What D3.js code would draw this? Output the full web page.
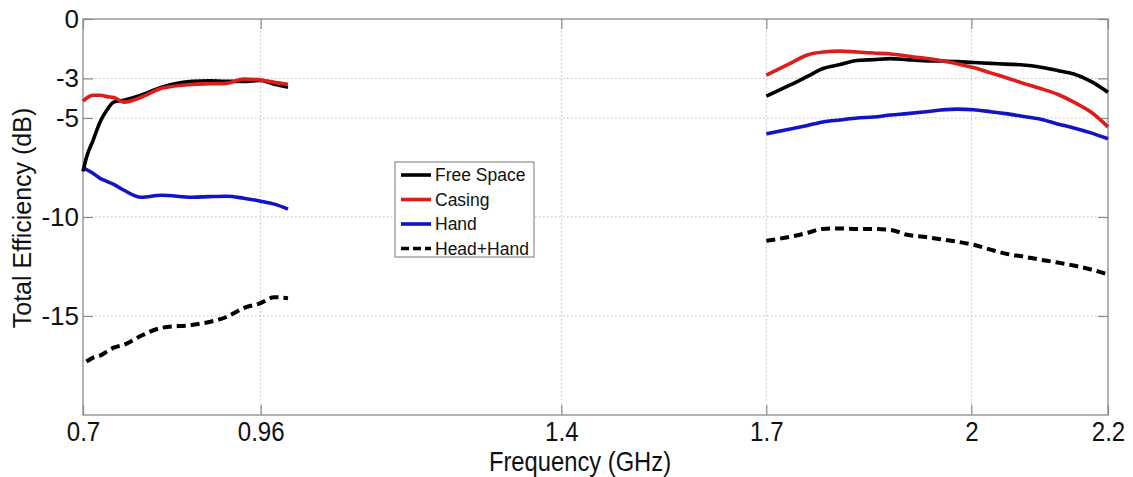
<!DOCTYPE html>
<html><head><meta charset="utf-8">
<script src="https://cdn.jsdelivr.net/npm/d3@7"></script>
<style>
body{margin:0;background:#fff;}
svg{display:block;font-family:"Liberation Sans",Arial,sans-serif;}
</style></head>
<body><svg id="c" width="1133" height="477"></svg>
<script>
// ---- data ----
const xTicks = [0.7, 0.96, 1.4, 1.7, 2, 2.2];
const xTickLabels = ["0.7", "0.96", "1.4", "1.7", "2", "2.2"];
const yTicks = [0, -3, -5, -10, -15];
const yTickLabels = ["0", "-3", "-5", "-10", "-15"];
const seriesNames = ["Free Space", "Casing", "Hand", "Head+Hand"];

const lowFreq = [0.70,0.705,0.715,0.725,0.735,0.745,0.76,0.785,0.815,0.86,0.885,0.91,0.935,0.96,0.98,1.0];
const freeLow  = [-7.7,-7.0,-6.1,-5.2,-4.6,-4.2,-4.1,-3.85,-3.45,-3.15,-3.12,-3.15,-3.15,-3.1,-3.3,-3.45];
const casingLow= [-4.15,-4.0,-3.85,-3.85,-3.92,-3.97,-4.2,-3.95,-3.5,-3.3,-3.27,-3.25,-3.03,-3.08,-3.2,-3.3];
const handLow  = [-7.5,-7.6,-7.8,-8.05,-8.2,-8.35,-8.65,-9.0,-8.9,-9.0,-8.97,-8.95,-9.05,-9.2,-9.35,-9.6];
const headFreqLow = [0.705,0.715,0.725,0.735,0.745,0.76,0.785,0.815,0.86,0.885,0.91,0.935,0.96,0.98,1.0];
const headLow  = [-17.3,-17.1,-17.0,-16.8,-16.6,-16.45,-16.0,-15.6,-15.45,-15.3,-15.05,-14.6,-14.35,-14.05,-14.1];

const highFreq = [1.70,1.735,1.76,1.783,1.808,1.833,1.857,1.882,1.906,1.93,1.955,1.98,2.003,2.028,2.05,2.076,2.10,2.126,2.15,2.175,2.2];
const freeHigh  = [-3.9,-3.33,-2.9,-2.5,-2.3,-2.1,-2.05,-2.0,-2.05,-2.1,-2.12,-2.15,-2.2,-2.24,-2.28,-2.32,-2.42,-2.6,-2.78,-3.15,-3.7];
const casingHigh= [-2.83,-2.24,-1.82,-1.67,-1.62,-1.67,-1.72,-1.77,-1.87,-1.97,-2.1,-2.27,-2.45,-2.72,-2.95,-3.25,-3.5,-3.8,-4.2,-4.7,-5.45];
const handHigh  = [-5.8,-5.56,-5.38,-5.2,-5.1,-5.0,-4.95,-4.85,-4.78,-4.7,-4.6,-4.55,-4.58,-4.68,-4.78,-4.92,-5.05,-5.3,-5.5,-5.75,-6.05];
const headHigh  = [-11.2,-11.0,-10.8,-10.6,-10.58,-10.6,-10.6,-10.65,-10.9,-11.0,-11.12,-11.25,-11.4,-11.65,-11.85,-12.0,-12.15,-12.3,-12.45,-12.65,-12.9];

// ---- layout ----
const L = 83, T = 19, R = 1108, B = 415;
const svg = d3.select("#c");
const x = d3.scaleLinear().domain([0.7, 2.2]).range([L, R]);
const y = d3.scaleLinear().domain([-20, 0]).range([B, T]);
const frame = "#8a8a8a";

// grid
const grid = svg.append("g");
grid.selectAll(".gx").data(xTicks.filter(d => d > 0.7 && d < 2.2)).enter().append("line")
  .attr("x1", d => x(d)).attr("x2", d => x(d)).attr("y1", T).attr("y2", B)
  .attr("stroke", "#bdbdbd").attr("stroke-width", 1).attr("stroke-dasharray", "1.5,2.5");
grid.selectAll(".gy").data(yTicks.filter(d => d < 0)).enter().append("line")
  .attr("x1", L).attr("x2", R).attr("y1", d => y(d)).attr("y2", d => y(d))
  .attr("stroke", "#bdbdbd").attr("stroke-width", 1).attr("stroke-dasharray", "1.5,2.5");

// axes (ticks inward)
const ax = svg.append("g").attr("transform", `translate(0,${B})`)
  .call(d3.axisBottom(x).tickValues(xTicks).tickSize(-10).tickPadding(6).tickFormat((d,i) => xTickLabels[i]));
const axT = svg.append("g").attr("transform", `translate(0,${T})`)
  .call(d3.axisTop(x).tickValues(xTicks).tickSize(-10).tickFormat(""));
const ay = svg.append("g").attr("transform", `translate(${L},0)`)
  .call(d3.axisLeft(y).tickValues(yTicks).tickSize(-10).tickPadding(4).tickFormat((d,i) => yTickLabels[i]));
const ayR = svg.append("g").attr("transform", `translate(${R},0)`)
  .call(d3.axisRight(y).tickValues(yTicks).tickSize(-10).tickFormat(""));
[ax, axT, ay, ayR].forEach(g => {
  g.select(".domain").remove();
  g.selectAll(".tick line").attr("stroke", frame).attr("stroke-width", 1.2);
});
ax.selectAll(".tick text").attr("font-size", 28).attr("fill", "#111")
  .attr("transform", "scale(0.86,1)");
ay.selectAll(".tick text").attr("font-size", 26).attr("fill", "#111");

// frame
svg.append("rect").attr("x", L).attr("y", T).attr("width", R - L).attr("height", B - T)
  .attr("fill", "none").attr("stroke", frame).attr("stroke-width", 1.3);

// lines
const line = d3.line().x(d => x(d[0])).y(d => y(d[1])).curve(d3.curveMonotoneX);
const zip = (a, b) => a.map((v, i) => [v, b[i]]);
const series = [
  {name: seriesNames[0], color: "#000000", dash: null, low: zip(lowFreq, freeLow), high: zip(highFreq, freeHigh)},
  {name: seriesNames[1], color: "#dd1c1c", dash: null, low: zip(lowFreq, casingLow), high: zip(highFreq, casingHigh)},
  {name: seriesNames[2], color: "#1212c8", dash: null, low: zip(lowFreq, handLow), high: zip(highFreq, handHigh)},
  {name: seriesNames[3], color: "#000000", dash: "9,5", low: zip(headFreqLow, headLow), high: zip(highFreq, headHigh)}
];
const drawOrder = [3, 2, 0, 1];
const lg = svg.append("g");
drawOrder.forEach(i => {
  const s = series[i];
  [s.low, s.high].forEach(seg => {
    lg.append("path").attr("d", line(seg)).attr("fill", "none")
      .attr("stroke", s.color).attr("stroke-width", s.dash ? 4 : 3.6)
      .attr("stroke-dasharray", s.dash).attr("stroke-linejoin", "round");
  });
});

// axis titles
svg.append("text").attr("x", 580 / 0.88).attr("y", 471).attr("text-anchor", "middle")
  .attr("font-size", 27).attr("fill", "#111")
  .attr("transform", "scale(0.88,1)")
  .text("Frequency (GHz)");
svg.append("text").attr("transform", "translate(31,218) rotate(-90)")
  .attr("text-anchor", "middle").attr("font-size", 25).attr("fill", "#111")
  .text("Total Efficiency (dB)");

// legend
const leg = svg.append("g");
leg.append("rect").attr("x", 395).attr("y", 162).attr("width", 139).attr("height", 95)
  .attr("fill", "#fff").attr("stroke", "#777").attr("stroke-width", 1);
series.forEach((s, i) => {
  const yy = 175 + i * 24.5;
  leg.append("line").attr("x1", 401).attr("x2", 431).attr("y1", yy).attr("y2", yy)
    .attr("stroke", s.color).attr("stroke-width", 3.6).attr("stroke-dasharray", s.dash ? "8,4" : null);
  leg.append("text").attr("x", 435).attr("y", yy + 6).attr("font-size", 17.5).attr("fill", "#111").text(s.name);
});
</script></body></html>
